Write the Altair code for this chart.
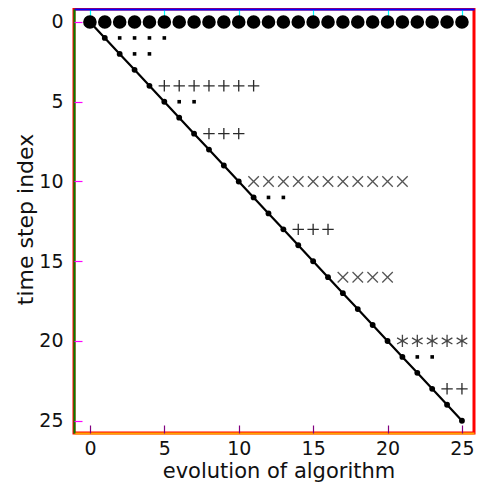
import altair as alt
import pandas as pd

# ---- data ----
top_x = [0, 1, 2, 3, 4, 5, 6, 7, 8, 9, 10, 11, 12, 13, 14, 15, 16, 17, 18, 19, 20, 21, 22, 23, 24, 25]
top_y = [0, 0, 0, 0, 0, 0, 0, 0, 0, 0, 0, 0, 0, 0, 0, 0, 0, 0, 0, 0, 0, 0, 0, 0, 0, 0]

diag_x = [0, 1, 2, 3, 4, 5, 6, 7, 8, 9, 10, 11, 12, 13, 14, 15, 16, 17, 18, 19, 20, 21, 22, 23, 24, 25]
diag_y = [0, 1, 2, 3, 4, 5, 6, 7, 8, 9, 10, 11, 12, 13, 14, 15, 16, 17, 18, 19, 20, 21, 22, 23, 24, 25]

dot_x = [2, 3, 4, 5, 3, 4, 6, 7, 12, 13, 22, 23]
dot_y = [1, 1, 1, 1, 2, 2, 5, 5, 11, 11, 21, 21]

plus_x = [5, 6, 7, 8, 9, 10, 11, 8, 9, 10, 14, 15, 16, 24, 25]
plus_y = [4, 4, 4, 4, 4, 4, 4, 7, 7, 7, 13, 13, 13, 23, 23]

cross_x = [11, 12, 13, 14, 15, 16, 17, 18, 19, 20, 21, 17, 18, 19, 20]
cross_y = [10, 10, 10, 10, 10, 10, 10, 10, 10, 10, 10, 16, 16, 16, 16]

star_x = [21, 22, 23, 24, 25]
star_y = [20, 20, 20, 20, 20]

tick_vals = [0, 5, 10, 15, 20, 25]

df_top = pd.DataFrame({"x": top_x, "y": top_y})
df_diag = pd.DataFrame({"x": diag_x, "y": diag_y})
df_dot = pd.DataFrame({"x": dot_x, "y": dot_y})
df_plus = pd.DataFrame({"x": plus_x, "y": plus_y})
df_cross = pd.DataFrame({"x": cross_x, "y": cross_y})
df_star = pd.DataFrame({"x": star_x, "y": star_y})

xs = alt.Scale(domain=[-1.07, 25.81], nice=False, zero=False)
ys = alt.Scale(domain=[-0.815, 25.77], reverse=True, nice=False, zero=False)

FONT = "DejaVu Sans"
TXT = "#111111"
SPINE = "#222222"
W = 400
H = 424

x_main = alt.Axis(orient="bottom", title="evolution of algorithm", values=tick_vals,
                  ticks=False, tickSize=0, domain=True, domainColor="orange", domainWidth=2,
                  grid=False,
                  labelFont=FONT, labelFontSize=19, labelColor=TXT, labelPadding=6,
                  titleFont=FONT, titleFontSize=21, titleFontWeight="normal",
                  titleColor=TXT, titleBaseline="alphabetic", titleY=44.5, titleX=204.5)
y_main = alt.Axis(orient="left", title="time step index", values=tick_vals,
                  ticks=False, tickSize=0, domain=True, domainColor="green", domainWidth=2,
                  grid=False,
                  labelFont=FONT, labelFontSize=19, labelColor=TXT, labelPadding=11,
                  titleFont=FONT, titleFontSize=22, titleFontWeight="normal",
                  titleColor=TXT, titleBaseline="alphabetic", titleX=-42, titleY=210)
x_topspine = alt.Axis(orient="top", ticks=False, labels=False, title=None, grid=False,
                      domain=True, domainColor="blue", domainWidth=2)


def tick_axis(orient, col):
    return alt.Axis(orient=orient, values=tick_vals, ticks=True, tickSize=8, offset=-8,
                    tickColor=col, tickWidth=1.2, labels=False, title=None,
                    domain=False, grid=False)


line = alt.Chart(df_diag).mark_line(color="black", strokeWidth=2.2).encode(
    x=alt.X("x:Q", scale=xs, axis=x_main),
    y=alt.Y("y:Q", scale=ys, axis=y_main),
)

diag_pts = alt.Chart(df_diag).mark_circle(color="black", size=34, opacity=1).encode(
    x=alt.X("x:Q", scale=xs, axis=tick_axis("bottom", "purple")),
    y=alt.Y("y:Q", scale=ys, axis=tick_axis("left", "magenta")),
)

top_pts = alt.Chart(df_top).mark_circle(color="black", size=185, opacity=1).encode(
    x=alt.X("x:Q", scale=xs, axis=tick_axis("top", "cyan")),
    y=alt.Y("y:Q", scale=ys, axis=None),
)

dots = alt.Chart(df_dot).mark_square(color="black", size=13, opacity=1).encode(
    x=alt.X("x:Q", scale=xs, axis=x_topspine),
    y=alt.Y("y:Q", scale=ys, axis=None),
)

PLUS = "M-1,0L1,0M0,-1L0,1"
CROSS = "M-1,-1L1,1M-1,1L1,-1"
STAR = "M0,-1L0,1M-0.87,-0.5L0.87,0.5M-0.87,0.5L0.87,-0.5"

plus = alt.Chart(df_plus).mark_point(shape=PLUS, filled=False, size=130, strokeWidth=1.3,
                                     color="#2a2a2a", opacity=1).encode(
    x=alt.X("x:Q", scale=xs, axis=None),
    y=alt.Y("y:Q", scale=ys, axis=None),
)

cross = alt.Chart(df_cross).mark_point(shape=CROSS, filled=False, size=110, strokeWidth=1.3,
                                       color="#555555", opacity=1).encode(
    x=alt.X("x:Q", scale=xs, axis=None),
    y=alt.Y("y:Q", scale=ys, axis=None),
)

star = alt.Chart(df_star).mark_point(shape=STAR, filled=False, size=150, strokeWidth=1.3,
                                     color="#444444", opacity=1).encode(
    x=alt.X("x:Q", scale=xs, axis=None),
    y=alt.Y("y:Q", scale=ys, axis=None),
)

chart = alt.layer(line, diag_pts, top_pts, dots, plus, cross, star).resolve_axis(
    x="independent", y="independent"
).properties(
    width=W,
    height=H,
    autosize=alt.AutoSizeParams(type="none"),
    padding={"left": 66, "top": 1, "right": 8, "bottom": 49},
    background="white",
).configure_view(
    stroke="red", strokeWidth=3
)

chart.save("out.html", embed_options={"renderer": "svg", "actions": False})
